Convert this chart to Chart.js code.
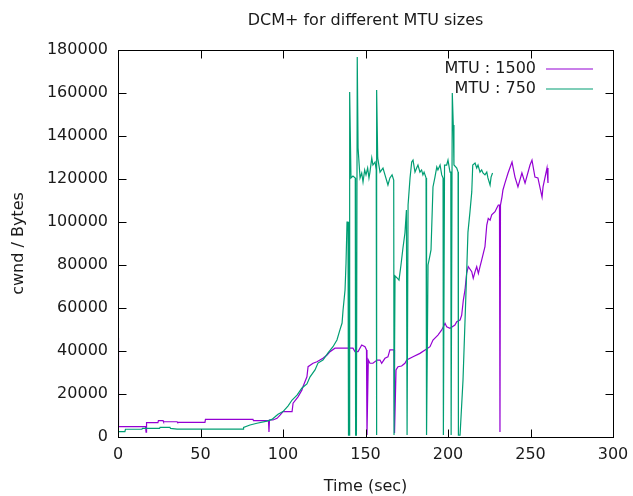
<!DOCTYPE html>
<html><head><meta charset="utf-8">
<script src="https://cdn.jsdelivr.net/npm/chart.js@4"></script>
<style>html,body{margin:0;padding:0;background:#fff}#wrap{width:633px;height:496px}</style>
</head><body><div id="wrap"><canvas id="c" width="633" height="496"></canvas></div>
<script>
const titleText = 'DCM+ for different MTU sizes';
const xAxisTitle = 'Time (sec)';
const yAxisTitle = 'cwnd / Bytes';
const seriesNames = ['MTU : 1500', 'MTU : 750'];
const seriesColors = ['#9400D3', '#009E73'];
const xTickValues = [0, 50, 100, 150, 200, 250, 300];
const yTickValues = [0, 20000, 40000, 60000, 80000, 100000, 120000, 140000, 160000, 180000];

const mtu1500Time = [0,0.3,16.7,17.0,17.3,24.2,24.5,27.3,27.6,35.8,36.1,52.7,53.0,81.8,82.1,91.2,91.5,91.8,93.9,96.4,98.2,100,105.5,106.1,109.1,111.5,112.1,114.5,115.2,118.2,120.6,122.4,124.2,126.7,128.5,131.5,135.6,139.4,142.4,143.6,145.5,147.7,149.7,150.6,150.9,151.7,152.7,154.5,157,158.8,159.8,161.8,163.6,164.8,167.3,167.6,168.5,169.7,171.9,173.9,175,178.8,183,186.1,189.1,190.9,193.9,196.2,198.2,199.2,201.2,204.2,205.3,207.3,208.3,209.3,210.3,211.3,212.3,214.4,215.3,216.4,217.4,218.4,219.4,220.4,221.4,222.4,223.5,224.4,225.5,226.5,228.5,229.5,230.5,231.2,231.5,231.8,232.7,233.3,234.5,236.4,238.8,240.6,242.4,244.8,246.7,249.7,250.9,252.7,254.5,257,257.6,260,260.6];
const mtu1500Cwnd = [46000,4800,4800,2300,6650,6650,7600,7600,7100,7100,6800,6800,8200,8200,7600,7600,2300,7900,7900,8700,10200,11800,11800,15700,18700,21900,23400,28000,32700,34300,35000,35800,36600,38100,39700,41300,41300,41300,41300,39700,39700,42800,42000,40500,900,35800,34300,34300,35800,35800,34300,36600,37300,40500,40500,1900,31200,32700,33000,34300,35800,37300,38900,40500,42000,45100,47400,49800,52900,51300,50600,52100,53600,54400,56700,63700,68400,76100,79200,76900,73800,76900,79200,76100,79200,82300,85400,88500,98600,101700,100900,103300,104800,106400,107900,107900,2300,107900,111600,114900,118100,122800,127900,120900,116300,122800,118100,126500,128800,120900,120500,111600,116300,125100,118100];

const mtu750Time = [0,4.2,4.5,14.5,14.8,25.2,25.5,31.5,31.8,35.8,75.8,76.1,80,84.2,90.3,93.3,95.2,97,100,103,105.5,108.5,111.5,114.5,116.4,119.4,121.2,124.2,127.3,130.3,132.7,134.5,135.8,136.4,137.6,138.2,138.8,139.4,139.7,140.2,140.4,141.2,142.4,143.8,144,144.5,145,145.5,146.1,146.7,147.7,148.5,149.5,150.3,151.3,152.1,152.7,153.8,154.5,155.8,156.5,156.7,156.8,157.4,158.8,160.6,161.8,163.6,164.8,166.1,167.1,167.3,167.9,169.1,170.3,171.5,172.7,173.9,174.8,175.2,175.8,177,178,178.8,180,181,181.8,183,184,184.8,185.5,186.7,187,187.9,189.1,189.7,190.9,192.1,193.2,193.9,195.2,196.2,197,197.2,197.9,199.2,200,201.2,201.7,201.9,202.6,203.2,203.6,205.3,206.1,206.3,207.3,209.1,211.5,212.1,213.3,214.4,215,216.4,217.4,218.2,219.4,220.4,221.2,222.4,223.5,224.2,225.5,226.1,227];
const mtu750Cwnd = [2500,2500,3600,3600,4000,4000,4500,4500,4000,3700,3700,4500,5600,6400,7400,8200,9400,10600,11800,14400,17200,19500,22800,24700,28000,31200,34400,35800,39100,42000,45100,49800,53000,59100,68400,80900,100000,100000,900,900,160500,120500,121400,120500,900,900,176700,134400,127400,120500,122800,118600,124200,121900,125100,120500,123200,129800,126500,127900,124200,900,161400,129800,123200,125100,121900,117200,120500,121900,119500,900,74900,74000,73000,80000,87900,94900,105600,900,107900,120500,127900,128800,123200,125100,126500,123200,124200,121900,123200,120500,900,80000,84600,87000,116300,120900,125600,124200,126500,121900,120500,900,126500,126500,128800,123200,123200,900,160000,145100,126500,125100,123200,900,900,26500,80900,95300,104600,114000,126500,127400,125100,126500,123200,124200,122800,121900,123200,120500,117200,120900,122800];

const FONT = 'DejaVu Sans';
const TEXT = '#1a1a1a';
Chart.defaults.font.family = FONT;
Chart.defaults.font.size = 16;
Chart.defaults.color = TEXT;

const toPts = (xs, ys) => xs.map((t, i) => ({x: t, y: ys[i]}));

const framePlugin = {
  id: 'frame',
  afterDatasetsDraw(chart) {
    const {ctx, chartArea: a, scales: {x, y}} = chart;
    ctx.save();
    ctx.strokeStyle = '#000';
    ctx.lineWidth = 1;
    const L = Math.round(a.left) + 0.5, R = Math.round(a.right) + 0.5;
    const T = Math.round(a.top) + 0.5, B = Math.round(a.bottom) + 0.5;
    ctx.strokeRect(L, T, R - L, B - T);
    const len = 8;
    ctx.beginPath();
    xTickValues.forEach(v => {
      const px = Math.round(x.getPixelForValue(v)) + 0.5;
      ctx.moveTo(px, B); ctx.lineTo(px, B - len);
      ctx.moveTo(px, T); ctx.lineTo(px, T + len);
    });
    yTickValues.forEach(v => {
      const py = Math.round(y.getPixelForValue(v)) + 0.5;
      ctx.moveTo(L, py); ctx.lineTo(L + len, py);
      ctx.moveTo(R, py); ctx.lineTo(R - len, py);
    });
    ctx.stroke();
    ctx.font = '16px "' + FONT + '"';
    ctx.fillStyle = TEXT;
    // title, centred over the plot like gnuplot
    ctx.textAlign = 'center';
    ctx.textBaseline = 'middle';
    ctx.fillText(titleText, (a.left + a.right) / 2, 21);
    // key
    ctx.textAlign = 'right';
    seriesNames.forEach((name, i) => {
      const yy = a.top + 19 + i * 20;
      ctx.fillStyle = TEXT;
      ctx.fillText(name, a.right - 77, yy);
      ctx.strokeStyle = seriesColors[i];
      ctx.lineWidth = 1.2;
      ctx.beginPath();
      ctx.moveTo(a.right - 67, yy); ctx.lineTo(a.right - 20, yy);
      ctx.stroke();
    });
    ctx.restore();
  }
};

new Chart(document.getElementById('c'), {
  type: 'line',
  data: {
    datasets: [
      {label: seriesNames[0], data: toPts(mtu1500Time, mtu1500Cwnd), borderColor: seriesColors[0], borderWidth: 1.2, pointRadius: 0, tension: 0, fill: false, order: 1},
      {label: seriesNames[1], data: toPts(mtu750Time, mtu750Cwnd), borderColor: seriesColors[1], borderWidth: 1.2, pointRadius: 0, tension: 0, fill: false, order: 0}
    ]
  },
  options: {
    responsive: false,
    animation: false,
    devicePixelRatio: 1,
    layout: {padding: {left: 0, right: 20, top: 50, bottom: 0}},
    plugins: {
      legend: {display: false},
      tooltip: {enabled: false},
      title: {display: false}
    },
    scales: {
      x: {
        type: 'linear', min: 0, max: 300,
        afterBuildTicks: s => { s.ticks = xTickValues.map(v => ({value: v})); },
        afterFit: s => { s.height = 59; s.paddingRight = 0; s.paddingLeft = 0; },
        ticks: {padding: 8, maxRotation: 0, autoSkip: false, callback: v => String(v), color: TEXT, font: {size: 16}},
        grid: {display: false, drawTicks: false},
        border: {display: false},
        title: {display: true, text: xAxisTitle, color: TEXT, font: {size: 16}, padding: {top: 0, bottom: 0}}
      },
      y: {
        type: 'linear', min: 0, max: 180000,
        afterBuildTicks: s => { s.ticks = yTickValues.map(v => ({value: v})); },
        afterFit: s => { s.width = 118; s.paddingTop = 0; s.paddingBottom = 0; },
        ticks: {padding: 10, autoSkip: false, callback: v => String(v), color: TEXT, font: {size: 16}},
        grid: {display: false, drawTicks: false},
        border: {display: false},
        title: {display: true, text: yAxisTitle, color: TEXT, font: {size: 16}, padding: {top: 9, bottom: 0}}
      }
    }
  },
  plugins: [framePlugin]
});
</script></body></html>
